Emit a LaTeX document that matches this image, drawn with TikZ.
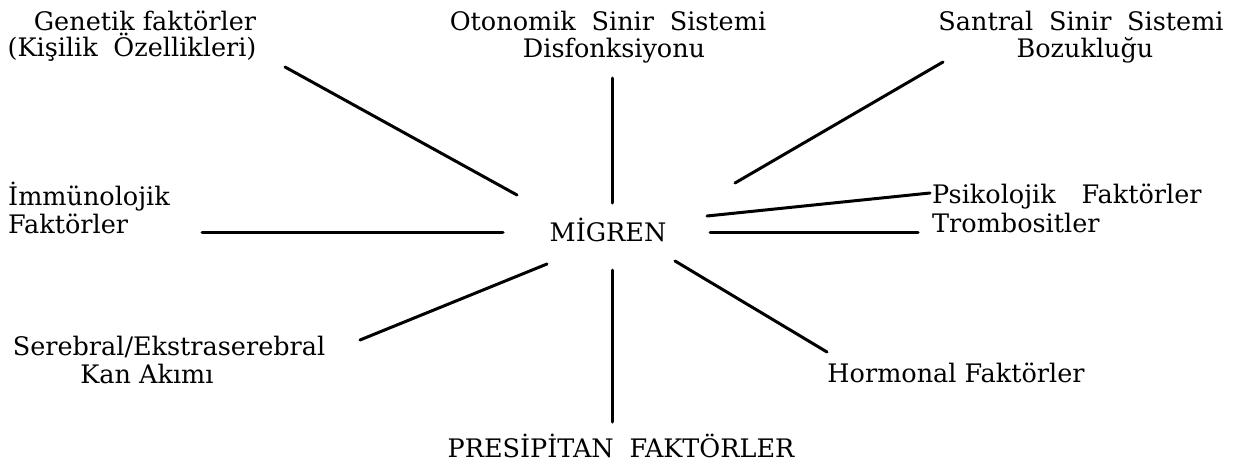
\documentclass[tikz,border=0pt]{standalone}
\usepackage{fontspec}
\setmainfont{DejaVu Serif}
\newcommand{\wgap}{\ \hspace{0.3em}}
\begin{document}
\begin{tikzpicture}[x=1pt,y=-1pt,
  lbl/.style={inner sep=0pt,font=\fontsize{25.5}{30}\selectfont},
  ray/.style={line width=3pt,line cap=round}]
\useasboundingbox (0,0) rectangle (1253,466);
% labels
\node[lbl,anchor=base] (gen1) at (145,30) {Genetik faktörler};
\node[lbl,anchor=base] (gen2) at (132,56) {(Kişilik\wgap Özellikleri)};
\node[lbl,anchor=base] (oto1) at (608,30) {Otonomik\wgap Sinir\wgap Sistemi};
\node[lbl,anchor=base] (oto2) at (614,57) {Disfonksiyonu};
\node[lbl,anchor=base] (san1) at (1081,30) {Santral\wgap Sinir\wgap Sistemi};
\node[lbl,anchor=base] (san2) at (1085,57) {Bozukluğu};
\node[lbl,anchor=base west] (imm1) at (8,205) {İmmünolojik};
\node[lbl,anchor=base west] (imm2) at (8,233) {Faktörler};
\node[lbl,anchor=base] (mig) at (608,241) {MİGREN};
\node[lbl,anchor=base west] (psi) at (932,203) {Psikolojik\ \hspace{0.7em}Faktörler};
\node[lbl,anchor=base west] (tro) at (932,232) {Trombositler};
\node[lbl,anchor=base] (ser1) at (169,355) {Serebral/Ekstraserebral};
\node[lbl,anchor=base] (ser2) at (147,383) {Kan Akımı};
\node[lbl,anchor=base] (hor) at (956,382) {Hormonal Faktörler};
\node[lbl,anchor=base] (pre) at (621,457) {PRESİPİTAN\wgap FAKTÖRLER};
% ray end points
\coordinate (gA) at (285,67);  \coordinate (gB) at (517,195);
\coordinate (oA) at (612,78);  \coordinate (oB) at (612,203);
\coordinate (sA) at (943,62);  \coordinate (sB) at (735,183);
\coordinate (iA) at (202,232); \coordinate (iB) at (503,232);
\coordinate (pA) at (930,193); \coordinate (pB) at (707,216);
\coordinate (tA) at (918,232); \coordinate (tB) at (710,232);
\coordinate (eA) at (360,340); \coordinate (eB) at (547,264);
\coordinate (rA) at (612,422); \coordinate (rB) at (612,270);
\coordinate (hA) at (827,352); \coordinate (hB) at (675,261);
% rays
\draw[ray] (gA) -- (gB);
\draw[ray] (oA) -- (oB);
\draw[ray] (sA) -- (sB);
\draw[ray] (iA) -- (iB);
\draw[ray] (pA) -- (pB);
\draw[ray] (tA) -- (tB);
\draw[ray] (eA) -- (eB);
\draw[ray] (rA) -- (rB);
\draw[ray] (hA) -- (hB);
\end{tikzpicture}
\end{document}
